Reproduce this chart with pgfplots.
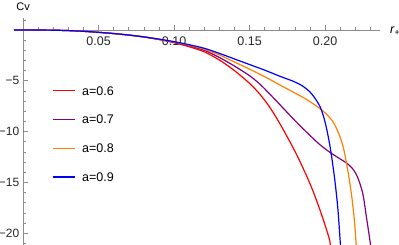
\documentclass[border=0pt]{standalone}
\usepackage{fontspec}
\setmainfont{Liberation Sans}
\usepackage{pgfplots}
\pgfplotsset{compat=1.18}
\definecolor{mred}{rgb}{1,0,0}
\definecolor{mpurple}{rgb}{0.5,0,0.5}
\definecolor{morange}{rgb}{1,0.5,0}
\definecolor{mblue}{rgb}{0,0,1}
\begin{document}
\begin{tikzpicture}
\begin{axis}[
  at={(14bp,0bp)}, anchor=south west,
  scale only axis, width=366bp, height=227bp,
  xmin=-0.006, xmax=0.2364, ymin=-21.16, ymax=1.18,
  clip mode=individual,
  axis lines=middle,
  axis line style={black!45, line width=0.6bp},
  every inner x axis line/.append style={-},
  every inner y axis line/.append style={-},
  tick align=inside,
  major tick length=4.5bp, minor tick length=2.5bp,
  tick style={black!45, line width=0.6bp},
  xtick={0.05,0.1,0.15,0.2},
  xticklabels={0.05,0.10,0.15,0.20},
  minor xtick={0.01,0.02,0.03,0.04,0.06,0.07,0.08,0.09,0.11,0.12,0.13,0.14,0.16,0.17,0.18,0.19,0.21,0.22,0.23},
  ytick={-20,-15,-10,-5},
  yticklabels={−20,−15,−10,−5},
  minor ytick={1,-1,-2,-3,-4,-6,-7,-8,-9,-11,-12,-13,-14,-16,-17,-18,-19,-21},
  xticklabel style={font=\fontsize{12.5bp}{14bp}\selectfont, text=black!85, yshift=-3.5bp},
  yticklabel style={font=\fontsize{12bp}{14bp}\selectfont, text=black!85, xshift=-0.3bp},
  xlabel={\textit{r}\textsubscript{+}},
  xlabel style={at={(axis description cs:1,0.94718)}, anchor=base west, xshift=6.5bp, yshift=-4bp, font=\fontsize{12.5bp}{14bp}\selectfont},
  legend style={at={(axis description cs:0.1038,0.6996)}, anchor=north west, draw=none, fill=none, inner sep=0pt, outer sep=0pt, font=\fontsize{12.5bp}{14bp}\selectfont, row sep=19.8bp, column sep=7bp, nodes={inner sep=0pt, text height=9bp, text depth=0pt}},
  legend cell align=left,
  legend image code/.code={\draw[#1, line width=1.2bp] (0bp,0bp) -- (22bp,0bp);},
  every axis plot/.append style={line width=1.2bp, smooth, no markers},
]
\addplot[mred] coordinates {(-0.006,0)(0,0)(0.01,-0.005)(0.02,-0.02)(0.03,-0.06)(0.04,-0.13)(0.05,-0.23)(0.06,-0.35)(0.07,-0.5)(0.08,-0.69)(0.09,-0.94)(0.10,-1.25)(0.11,-1.65)(0.12,-2.15)(0.13,-2.95)(0.14,-4.0)(0.15,-5.25)(0.157,-6.35)(0.1636,-7.65)(0.170,-9.2)(0.176,-10.8)(0.1813,-12.3)(0.187,-14.1)(0.1923,-15.95)(0.198,-18.3)(0.2029,-20.6)(0.2036,-21.5)(0.205,-23)};
\addlegendentry{a=0.6}
\addplot[mpurple] coordinates {(-0.006,0)(0,0)(0.01,-0.005)(0.02,-0.02)(0.03,-0.06)(0.04,-0.13)(0.05,-0.23)(0.06,-0.35)(0.07,-0.5)(0.08,-0.68)(0.09,-0.92)(0.10,-1.2)(0.11,-1.55)(0.12,-2.0)(0.13,-2.7)(0.14,-3.55)(0.15,-4.5)(0.157,-5.35)(0.165,-6.55)(0.172,-7.65)(0.179,-8.75)(0.186,-9.8)(0.1923,-10.7)(0.1967,-11.3)(0.2033,-12.05)(0.208,-12.5)(0.2143,-13.1)(0.218,-13.6)(0.221,-14.3)(0.2235,-15.3)(0.2254,-16.4)(0.2276,-18.6)(0.2298,-20.8)(0.231,-22.5)};
\addlegendentry{a=0.7}
\addplot[morange] coordinates {(-0.006,0)(0,0)(0.01,-0.005)(0.02,-0.02)(0.03,-0.06)(0.04,-0.13)(0.05,-0.23)(0.06,-0.35)(0.07,-0.5)(0.08,-0.68)(0.09,-0.91)(0.10,-1.17)(0.11,-1.5)(0.12,-1.9)(0.13,-2.45)(0.14,-3.15)(0.15,-3.85)(0.16,-4.6)(0.17,-5.4)(0.18,-6.2)(0.1868,-6.75)(0.192,-7.25)(0.1967,-7.75)(0.2,-8.15)(0.2044,-8.85)(0.207,-9.5)(0.2099,-10.5)(0.2118,-11.4)(0.2132,-12.3)(0.2155,-14.2)(0.2177,-16.4)(0.2192,-18.4)(0.2201,-20.0)(0.2212,-22.5)};
\addlegendentry{a=0.8}
\addplot[mblue] coordinates {(-0.006,0)(0,0)(0.01,-0.005)(0.02,-0.02)(0.03,-0.06)(0.04,-0.13)(0.05,-0.23)(0.06,-0.35)(0.07,-0.5)(0.08,-0.68)(0.09,-0.9)(0.10,-1.15)(0.11,-1.45)(0.12,-1.8)(0.13,-2.3)(0.14,-2.85)(0.15,-3.4)(0.16,-3.95)(0.17,-4.55)(0.179,-5.05)(0.185,-5.5)(0.19,-6.1)(0.1935,-6.75)(0.1967,-7.55)(0.199,-8.5)(0.2011,-9.75)(0.203,-11.2)(0.2044,-12.5)(0.2065,-14.8)(0.2085,-17.6)(0.2099,-20.5)(0.2108,-22.5)};
\addlegendentry{a=0.9}
\node[anchor=base, inner sep=0pt, font=\fontsize{11bp}{13bp}\selectfont] at (axis description cs:0.02475,1) [yshift=7.5bp] {Cv};
\end{axis}
\pgfresetboundingbox
\path[use as bounding box] (0,0) rectangle (399bp,245bp);
\end{tikzpicture}
\end{document}
